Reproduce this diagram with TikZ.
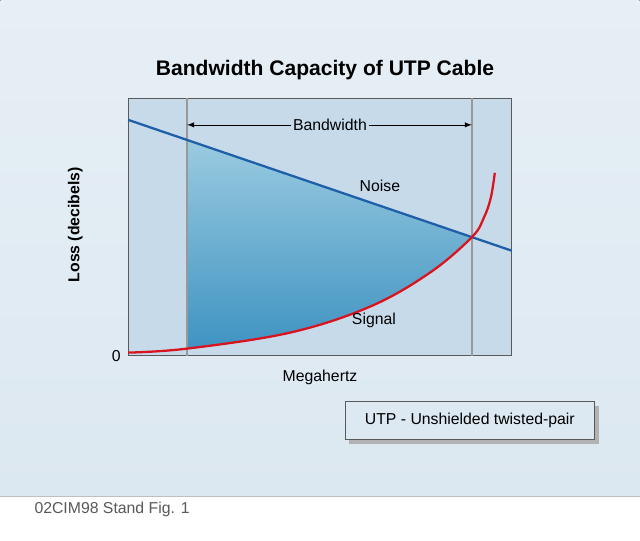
\documentclass[tikz,border=0pt]{standalone}
\usepackage{fontspec}
\setmainfont{Liberation Sans}
\definecolor{BgBlue}{HTML}{DCE8F1}
\definecolor{PlotBlue}{HTML}{C6DAEA}
\definecolor{BandTop}{HTML}{9ACBE0}
\definecolor{BandBot}{HTML}{3F93C2}
\definecolor{NoiseBlue}{HTML}{1F5FA8}
\definecolor{SignalRed}{HTML}{D9141E}
\tikzset{
  label/.style={font=\small, inner sep=1pt},
  guide/.style={draw=gray!80, line width=0.8pt}
}
\begin{document}
\begin{tikzpicture}[x=0.02cm, y=-0.02cm]

  %%%%%%%%%% Background %%%%%%%%%%
 \fill [top color=BgBlue!70!white, bottom color=BgBlue] (0,0) rectangle (640,497);
 \fill [white] (0,497) rectangle (640,541);
 \draw [gray!50] (0,497) -- (640,497);
 \useasboundingbox (0,0) rectangle (640,541);

  %%%%%%%%%% Plot area %%%%%%%%%%
 \fill [PlotBlue] (128,98) rectangle (512,356);
 \fill [top color=BandTop, bottom color=BandBot]
   (187,140.1) -- (472,237.4)
   -- plot[smooth, tension=0.6] coordinates {(472,237.4) (430,273) (370,307) (290,333) (187,349)} -- cycle;
 \draw [gray!70!black] (128,98) rectangle (512,356);
 \draw [guide] (187,98) -- (187,356);
 \draw [guide] (472,98) -- (472,356);

  %%%%%%%%%% Curves %%%%%%%%%%
 \draw [NoiseBlue, line width=1.3pt] (128,120) -- (512,251);
 \draw [SignalRed, line width=1.3pt] plot[smooth, tension=0.6] coordinates
   {(128,353) (187,349) (290,333) (370,307) (430,273) (472,237.4) (484,218) (491,198) (495,173)};

  %%%%%%%%%% Labels %%%%%%%%%%
 \node [font=\large\bfseries] (title) at (325,70) {Bandwidth Capacity of UTP Cable};
 \node [label, fill=PlotBlue] (bw) at (330,125) {Bandwidth};
 \coordinate (bwl) at (187,125);
 \coordinate (bwr) at (472,125);
 \draw [-latex] (bw) -- (bwl);
 \draw [-latex] (bw) -- (bwr);
 \node [label] (noise) at (380,186) {Noise};
 \node [label] (signal) at (374,321) {Signal};
 \node [label] (zero) at (116,356) {0};
 \node [label] (mhz) at (320,378) {Megahertz};
 \node [label, rotate=90, font=\small\bfseries] (loss) at (75,225) {Loss (decibels)};

  %%%%%%%%%% Legend %%%%%%%%%%
 \fill [gray!60] (349,406) rectangle (599,444);
 \node [draw=gray!70!black, fill=PlotBlue!60!white, minimum width=250*0.02cm,
        minimum height=38*0.02cm, font=\small] (legend) at (470,421)
   {UTP - Unshielded twisted-pair};

 \node [anchor=west, font=\small, text=gray!70!black] (fig) at (28,510) {02CIM98 Stand Fig. 1};

\end{tikzpicture}
\end{document}
